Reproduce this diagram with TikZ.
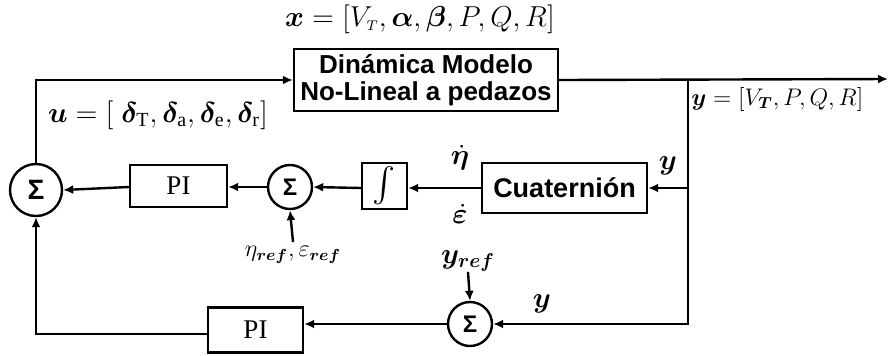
\documentclass[tikz,border=0pt]{standalone}
\usepackage{amsmath,bm}
\usepackage{fontspec}
\setmainfont{Liberation Serif}
\setsansfont{Liberation Sans}
\usetikzlibrary{arrows.meta,positioning}
\tikzset{
  blk/.style={draw, line width=1.2pt, align=center, inner sep=1pt},
  sumc/.style={draw, circle, line width=1.2pt, inner sep=0pt, font=\sffamily\bfseries},
  lbl/.style={inner sep=0pt, font=\Large},
  fl/.style={-{Latex[length=5pt,width=4.5pt]}, line width=1.2pt},
}
\begin{document}
\begin{tikzpicture}[x=0.5pt, y=-0.5pt]
  \useasboundingbox (0,0) rectangle (889,355);
  % bloques
  \node[blk, minimum width=132pt, minimum height=31pt, font=\sffamily\bfseries\fontsize{13}{13.5}\selectfont] (plant) at (426,80) {Din\'amica Modelo\\No-Lineal a pedazos};
  \node[sumc, minimum size=26pt, font=\sffamily\bfseries\fontsize{14}{14}\selectfont] (sumL) at (36,190) {Σ};
  \node[blk, minimum width=48.5pt, minimum height=21pt, font=\fontsize{13.5}{14}\selectfont] (pi1) at (178.5,186) {PI};
  \node[sumc, minimum size=22pt, font=\sffamily\bfseries\fontsize{12}{12}\selectfont] (sum2) at (290,187) {Σ};
  \node[blk, minimum width=22.5pt, minimum height=23pt, font=\LARGE] (intg) at (384.5,186) {$\int$};
  \node[blk, minimum width=82.5pt, minimum height=25pt, font=\sffamily\bfseries\fontsize{13.5}{14}\selectfont] (quat) at (564.5,188) {Cuaterni\'on};
  \node[sumc, minimum size=22pt, font=\sffamily\bfseries\fontsize{12}{12}\selectfont] (sum3) at (470,324) {Σ};
  \node[blk, minimum width=47.5pt, minimum height=22.5pt, font=\fontsize{13.5}{14}\selectfont] (pi2) at (255.5,330) {PI};
  \coordinate (split) at (688,79);
  \coordinate (outend) at (888,79);
  % textos
  \node[lbl] (xlab) at (420,19) {$\bm{x}=[V_{\scriptscriptstyle T},\bm{\alpha},\bm{\beta},P,Q,R]$};
  \node[lbl] (ulab) at (158,115) {$\bm{u}=[\;\bm{\delta}_{\mathrm{T}},\bm{\delta}_{\mathrm{a}},\bm{\delta}_{\mathrm{e}},\bm{\delta}_{\mathrm{r}}]$};
  \node[lbl, anchor=west, font=\large] (ylab) at (691,99) {$\bm{y}=[V_{\bm{T}},P,Q,R]$};
  \node[lbl] (etad) at (460,158) {$\dot{\bm{\eta}}$};
  \node[lbl] (epsd) at (460,214) {$\dot{\bm{\varepsilon}}$};
  \node[lbl] (yq) at (668,166) {$\bm{y}$};
  \node[lbl] (yb) at (542,304) {$\bm{y}$};
  \node[lbl] (yref) at (468,261) {$\bm{y}_{\bm{ref}}$};
  \node[lbl, font=\large] (ref2) at (293,255) {$\eta_{\bm{ref}},\varepsilon_{\bm{ref}}$};
  % conexiones
  \draw[fl] (sumL.north) |- (plant.west);
  \draw[fl] (plant.east) -- (outend);
  \draw[fl] (split) |- (quat.east);
  \draw[fl] (split) |- (sum3.east);
  \draw[fl] (quat.west) -- (intg.east |- quat.west);
  \draw[fl] (intg.west |- quat.west) -- (sum2.east);
  \draw[fl] (sum2.west) -- (sum2.west -| pi1.east);
  \draw[fl] (sum2.west -| pi1.west) -- (sumL.east);
  \draw[fl] (sum3.west) -- (sum3.west -| pi2.east);
  \draw[fl] ([yshift=-2pt]pi2.west) -| (sumL.south);
  \draw[fl] (yref.south) -- (sum3.north);
  \draw[fl] ([yshift=2pt]ref2.north) -- (sum2.south);
\end{tikzpicture}
\end{document}
